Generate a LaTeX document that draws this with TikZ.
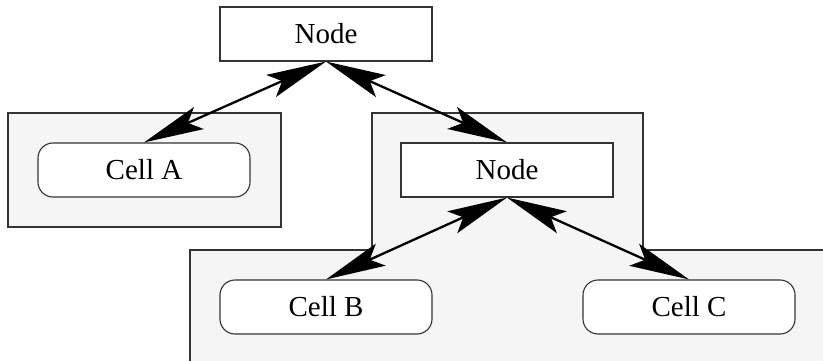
\documentclass[tikz,border=0pt]{standalone}
\usepackage{fontspec}
\setmainfont{Liberation Serif}
\usetikzlibrary{arrows.meta, backgrounds, positioning}

\definecolor{cellgray}{HTML}{F5F5F5}
\definecolor{edgegray}{HTML}{333333}

\begin{document}
\begin{tikzpicture}[
            x=1pt, y=1pt,
            on grid,
            font=\fontsize{29}{34}\selectfont,
            semithick
        ]

        \tikzset{
            box/.style={
                draw=edgegray,
                line width=1.1pt,
                fill=white,
                shape=rectangle,
                minimum width=212pt,
                minimum height=54pt,
                inner sep=0pt
            },
            cell/.style={box, rounded corners=15pt},
            link/.style={
                line width=2.3pt,
                {Stealth[length=60pt, width=24pt, inset=12pt]}-{Stealth[length=60pt, width=24pt, inset=12pt]}
            }
        }

        \useasboundingbox (0,0) rectangle (823,-361);

        % upper level
        \node[box] (node) at (326,-34) {Node};
        \node[cell] (cella) [below left=136pt and 182pt of node] {Cell A};
        \node[box] (inner) [below right=136pt and 181pt of node] {Node};

        % lower level
        \node[cell] (cellb) [below left=137pt and 181pt of inner] {Cell B};
        \node[cell] (cellc) [below right=137pt and 182pt of inner] {Cell C};

        \begin{scope}[on background layer]
            \draw[draw=edgegray, line width=1.1pt, fill=cellgray]
                (8,-113) rectangle (281,-227);
            \draw[draw=edgegray, line width=1.1pt, fill=cellgray]
                (190,-250) -- (372,-250) -- (372,-113) -- (643,-113)
                -- (643,-250) -- (835,-250) -- (835,-375) -- (190,-375) -- cycle;
        \end{scope}

        \draw[link] (node.south) -- (cella.north);
        \draw[link] (node.south) -- (inner.north);
        \draw[link] (inner.south) -- (cellb.north);
        \draw[link] (inner.south) -- (cellc.north);

    \end{tikzpicture}
\end{document}
